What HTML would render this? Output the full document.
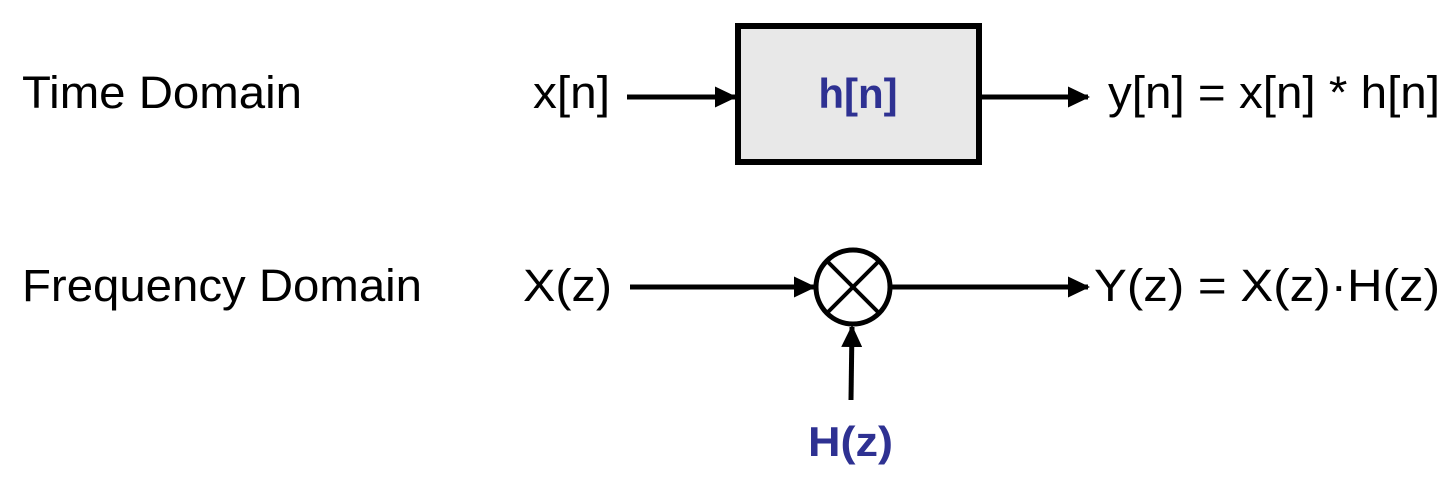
<!DOCTYPE html>
<html><head><meta charset="utf-8"><style>
html,body{margin:0;padding:0;background:#fff;width:1456px;height:486px;overflow:hidden}
text{font-family:"Liberation Sans",Arial,sans-serif;font-size:45px;fill:#000}
.b{fill:#2e3192;font-weight:bold;font-size:42px}
</style></head><body>
<svg width="1456" height="486" viewBox="0 0 1456 486">
<defs><marker id="ah" markerWidth="4.4" markerHeight="4.2" refX="4" refY="2.1" orient="auto" markerUnits="strokeWidth"><path d="M0,0 L4.4,2.1 L0,4.2 z" fill="#000"/></marker></defs>
<text x="22" y="108" textLength="280" lengthAdjust="spacingAndGlyphs">Time Domain</text>
<text x="533" y="108" textLength="77" lengthAdjust="spacingAndGlyphs">x[n]</text>
<line x1="627" y1="97" x2="735" y2="97" stroke="#000" stroke-width="5" marker-end="url(#ah)"/>
<rect x="738" y="26" width="241" height="136" fill="#e8e8e8" stroke="#000" stroke-width="6"/>
<text x="858" y="108" text-anchor="middle" class="b">h[n]</text>
<line x1="982" y1="97" x2="1088" y2="97" stroke="#000" stroke-width="5" marker-end="url(#ah)"/>
<text x="1108" y="108" textLength="332" lengthAdjust="spacingAndGlyphs">y[n] = x[n] * h[n]</text>
<text x="22" y="301" textLength="400" lengthAdjust="spacingAndGlyphs">Frequency Domain</text>
<text x="523" y="301" textLength="89" lengthAdjust="spacingAndGlyphs">X(z)</text>
<line x1="630" y1="287" x2="814" y2="287" stroke="#000" stroke-width="5" marker-end="url(#ah)"/>
<g>
<circle cx="853" cy="287" r="37" fill="none" stroke="#000" stroke-width="5"/>
<line x1="827" y1="261" x2="879" y2="313" stroke="#000" stroke-width="4"/>
<line x1="879" y1="261" x2="827" y2="313" stroke="#000" stroke-width="4"/>
</g>
<line x1="890" y1="287" x2="1088" y2="287" stroke="#000" stroke-width="5" marker-end="url(#ah)"/>
<line x1="851" y1="400" x2="852" y2="327" stroke="#000" stroke-width="5" marker-end="url(#ah)"/>
<text x="1094" y="301" textLength="346" lengthAdjust="spacingAndGlyphs">Y(z) = X(z)·H(z)</text>
<text x="808" y="456" textLength="85" lengthAdjust="spacingAndGlyphs" class="b">H(z)</text>
</svg>
</body></html>
